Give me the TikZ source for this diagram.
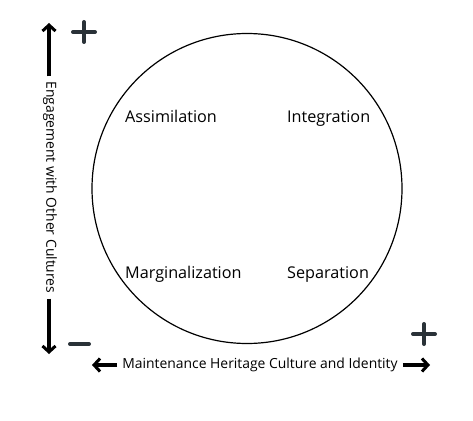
\documentclass[tikz,border=0pt]{standalone}
\usepackage{fontspec}
\setmainfont{Open Sans}
\usepackage{tikz}
\usetikzlibrary{arrows.meta, positioning, calc}
\definecolor{signgray}{RGB}{42, 50, 56}

\tikzset{
  quadlabel/.style={font=\fontsize{16.2}{19}\selectfont, anchor=base west, inner sep=0pt},
  axislabel/.style={font=\fontsize{13.9}{16}\selectfont, inner xsep=5pt, inner ysep=0pt},
  axisarrow/.style={line width=3.2pt, -{Straight Barb[length=6pt, width=13pt, line width=3pt]}},
  signline/.style={signgray, line width=4pt, line cap=round}
}

\begin{document}
\begin{tikzpicture}[x=1pt, y=-1pt]
        \useasboundingbox (0,0) rectangle (473,420);

        % the circle
        \node[circle, draw, line width=1.2pt, minimum size=310pt, inner sep=0pt]
          (circ) at (247,188.5) {};

        % four quadrants
        \node[quadlabel] (assim) at (125,122) {Assimilation};
        \node[quadlabel] (integ) at (287,122) {Integration};
        \node[quadlabel] (margin) at (125,278) {Marginalization};
        \node[quadlabel] (separ) at (287,278) {Separation};

        % vertical axis
        \node[axislabel, rotate=-90] (engage) at (50,187.5)
          {Engagement with Other Cultures};
        \coordinate (uptip) at (49,23);
        \coordinate (downtip) at (49,354);
        \draw[axisarrow] (engage.west -| uptip) -- (uptip);
        \draw[axisarrow] (engage.east -| downtip) -- (downtip);

        % horizontal axis
        \node[axislabel] (maint) at (260,365)
          {Maintenance Heritage Culture and Identity};
        \coordinate (lefttip) at (92,365);
        \coordinate (righttip) at (430,365);
        \draw[axisarrow] (maint.west) -- (lefttip);
        \draw[axisarrow] (maint.east) -- (righttip);

        % signs
        \draw[signline] (73,32) -- (95,32) (84,22) -- (84,42);
        \draw[signline] (70,344) -- (89,344);
        \draw[signline] (413,334) -- (435,334) (424,324) -- (424,344);
      \end{tikzpicture}
\end{document}
